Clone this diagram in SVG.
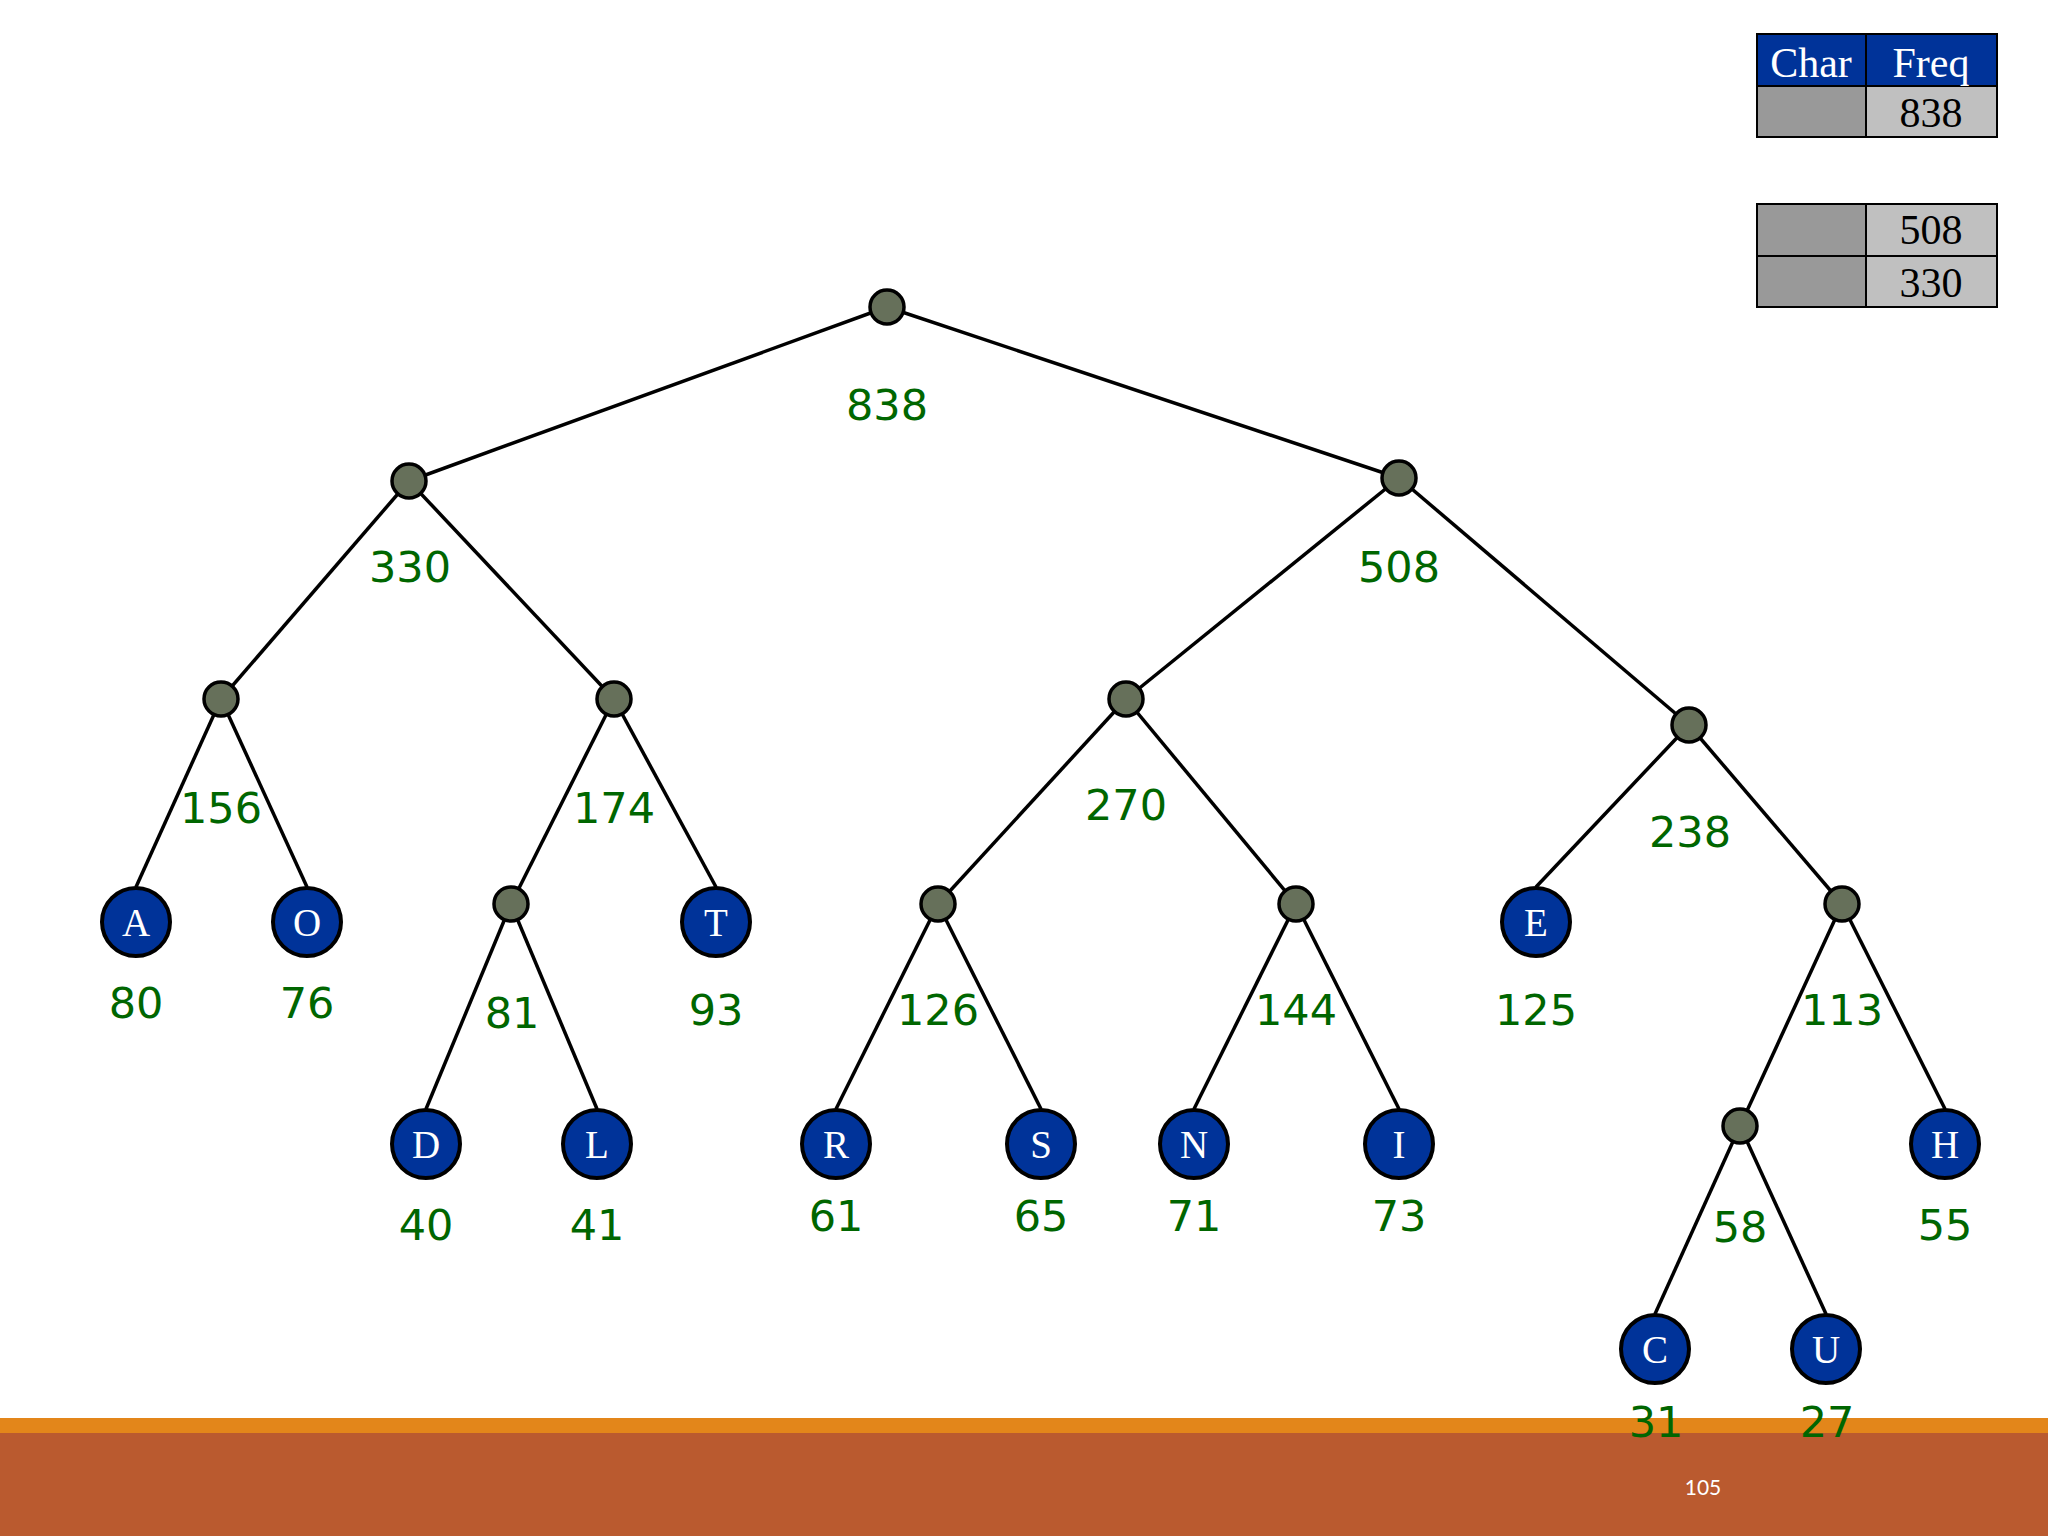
<svg xmlns="http://www.w3.org/2000/svg" width="2048" height="1536" viewBox="0 0 2048 1536">
<style>
.e{stroke:#000;stroke-width:3.5;fill:none}
.in{fill:#66705a;stroke:#000;stroke-width:3.5}
.lf{fill:#003399;stroke:#000;stroke-width:4}
.lt{font-family:"Liberation Serif",serif;font-size:39px;fill:#fff;text-anchor:middle}
.num{font-family:"DejaVu Sans",sans-serif;font-size:43px;fill:#006600;text-anchor:middle}
.tt{font-family:"Liberation Serif",serif;font-size:42px;text-anchor:middle}
</style>
<rect width="2048" height="1536" fill="#fff"/>
<g id="footer">
<rect x="0" y="1418" width="2048" height="15" fill="#e3861a"/>
<rect x="0" y="1433" width="2048" height="103" fill="#ba5a2f"/>
<text x="1703" y="1495" font-family="Lato,sans-serif" font-size="21" fill="#fff" text-anchor="middle">105</text>
</g>
<g id="table">
<rect x="1757" y="34" width="109" height="52" fill="#003399" stroke="#000" stroke-width="2"/>
<rect x="1866" y="34" width="131" height="52" fill="#003399" stroke="#000" stroke-width="2"/>
<rect x="1757" y="86" width="109" height="51" fill="#999" stroke="#000" stroke-width="2"/>
<rect x="1866" y="86" width="131" height="51" fill="#c0c0c0" stroke="#000" stroke-width="2"/>
<text class="tt" x="1811" y="77" fill="#fff">Char</text>
<text class="tt" x="1931" y="77" fill="#fff">Freq</text>
<text class="tt" x="1931" y="127" fill="#000">838</text>
<rect x="1757" y="204" width="109" height="52" fill="#999" stroke="#000" stroke-width="2"/>
<rect x="1866" y="204" width="131" height="52" fill="#c0c0c0" stroke="#000" stroke-width="2"/>
<rect x="1757" y="256" width="109" height="51" fill="#999" stroke="#000" stroke-width="2"/>
<rect x="1866" y="256" width="131" height="51" fill="#c0c0c0" stroke="#000" stroke-width="2"/>
<text class="tt" x="1931" y="244" fill="#000">508</text>
<text class="tt" x="1931" y="297" fill="#000">330</text>
</g>
<g id="connectors">
<line class="e" x1="887" y1="307" x2="409" y2="481"/>
<line class="e" x1="887" y1="307" x2="1399" y2="478"/>
<line class="e" x1="409" y1="481" x2="221" y2="699"/>
<line class="e" x1="409" y1="481" x2="614" y2="699"/>
<line class="e" x1="1399" y1="478" x2="1126" y2="699"/>
<line class="e" x1="1399" y1="478" x2="1689" y2="725"/>
<line class="e" x1="221" y1="699" x2="136" y2="887"/>
<line class="e" x1="221" y1="699" x2="307" y2="887"/>
<line class="e" x1="614" y1="699" x2="511" y2="904"/>
<line class="e" x1="614" y1="699" x2="716" y2="887"/>
<line class="e" x1="1126" y1="699" x2="938" y2="904"/>
<line class="e" x1="1126" y1="699" x2="1296" y2="904"/>
<line class="e" x1="1689" y1="725" x2="1536" y2="887"/>
<line class="e" x1="1689" y1="725" x2="1842" y2="904"/>
<line class="e" x1="511" y1="904" x2="426" y2="1109"/>
<line class="e" x1="511" y1="904" x2="597" y2="1109"/>
<line class="e" x1="938" y1="904" x2="836" y2="1109"/>
<line class="e" x1="938" y1="904" x2="1041" y2="1109"/>
<line class="e" x1="1296" y1="904" x2="1194" y2="1109"/>
<line class="e" x1="1296" y1="904" x2="1399" y2="1109"/>
<line class="e" x1="1842" y1="904" x2="1740" y2="1126"/>
<line class="e" x1="1842" y1="904" x2="1945" y2="1109"/>
<line class="e" x1="1740" y1="1126" x2="1655" y2="1314"/>
<line class="e" x1="1740" y1="1126" x2="1826" y2="1314"/>
</g>
<g id="n838"><circle class="in" cx="887" cy="307" r="17"/><text class="num" x="887" y="420">838</text></g>
<g id="n330"><circle class="in" cx="409" cy="481" r="17"/><text class="num" x="410" y="582">330</text></g>
<g id="n508"><circle class="in" cx="1399" cy="478" r="17"/><text class="num" x="1399" y="582">508</text></g>
<g id="n156"><circle class="in" cx="221" cy="699" r="17"/><text class="num" x="221" y="823">156</text></g>
<g id="n174"><circle class="in" cx="614" cy="699" r="17"/><text class="num" x="614" y="823">174</text></g>
<g id="n270"><circle class="in" cx="1126" cy="699" r="17"/><text class="num" x="1126" y="820">270</text></g>
<g id="n238"><circle class="in" cx="1689" cy="725" r="17"/><text class="num" x="1690" y="847">238</text></g>
<g id="n81"><circle class="in" cx="511" cy="904" r="17"/><text class="num" x="512" y="1028">81</text></g>
<g id="n126"><circle class="in" cx="938" cy="904" r="17"/><text class="num" x="938" y="1025">126</text></g>
<g id="n144"><circle class="in" cx="1296" cy="904" r="17"/><text class="num" x="1296" y="1025">144</text></g>
<g id="n113"><circle class="in" cx="1842" cy="904" r="17"/><text class="num" x="1842" y="1025">113</text></g>
<g id="n58"><circle class="in" cx="1740" cy="1126" r="17"/><text class="num" x="1740" y="1242">58</text></g>
<g id="A"><circle class="lf" cx="136" cy="922" r="34"/><text class="lt" x="136" y="936">A</text><text class="num" x="136" y="1018">80</text></g>
<g id="O"><circle class="lf" cx="307" cy="922" r="34"/><text class="lt" x="307" y="936">O</text><text class="num" x="307" y="1018">76</text></g>
<g id="T"><circle class="lf" cx="716" cy="922" r="34"/><text class="lt" x="716" y="936">T</text><text class="num" x="716" y="1025">93</text></g>
<g id="E"><circle class="lf" cx="1536" cy="922" r="34"/><text class="lt" x="1536" y="936">E</text><text class="num" x="1536" y="1025">125</text></g>
<g id="D"><circle class="lf" cx="426" cy="1144" r="34"/><text class="lt" x="426" y="1158">D</text><text class="num" x="426" y="1240">40</text></g>
<g id="L"><circle class="lf" cx="597" cy="1144" r="34"/><text class="lt" x="597" y="1158">L</text><text class="num" x="597" y="1240">41</text></g>
<g id="R"><circle class="lf" cx="836" cy="1144" r="34"/><text class="lt" x="836" y="1158">R</text><text class="num" x="836" y="1231">61</text></g>
<g id="S"><circle class="lf" cx="1041" cy="1144" r="34"/><text class="lt" x="1041" y="1158">S</text><text class="num" x="1041" y="1231">65</text></g>
<g id="N"><circle class="lf" cx="1194" cy="1144" r="34"/><text class="lt" x="1194" y="1158">N</text><text class="num" x="1194" y="1231">71</text></g>
<g id="I"><circle class="lf" cx="1399" cy="1144" r="34"/><text class="lt" x="1399" y="1158">I</text><text class="num" x="1399" y="1231">73</text></g>
<g id="H"><circle class="lf" cx="1945" cy="1144" r="34"/><text class="lt" x="1945" y="1158">H</text><text class="num" x="1945" y="1240">55</text></g>
<g id="C"><circle class="lf" cx="1655" cy="1349" r="34"/><text class="lt" x="1655" y="1363">C</text><text class="num" x="1656" y="1437">31</text></g>
<g id="U"><circle class="lf" cx="1826" cy="1349" r="34"/><text class="lt" x="1826" y="1363">U</text><text class="num" x="1827" y="1437">27</text></g>
</svg>
